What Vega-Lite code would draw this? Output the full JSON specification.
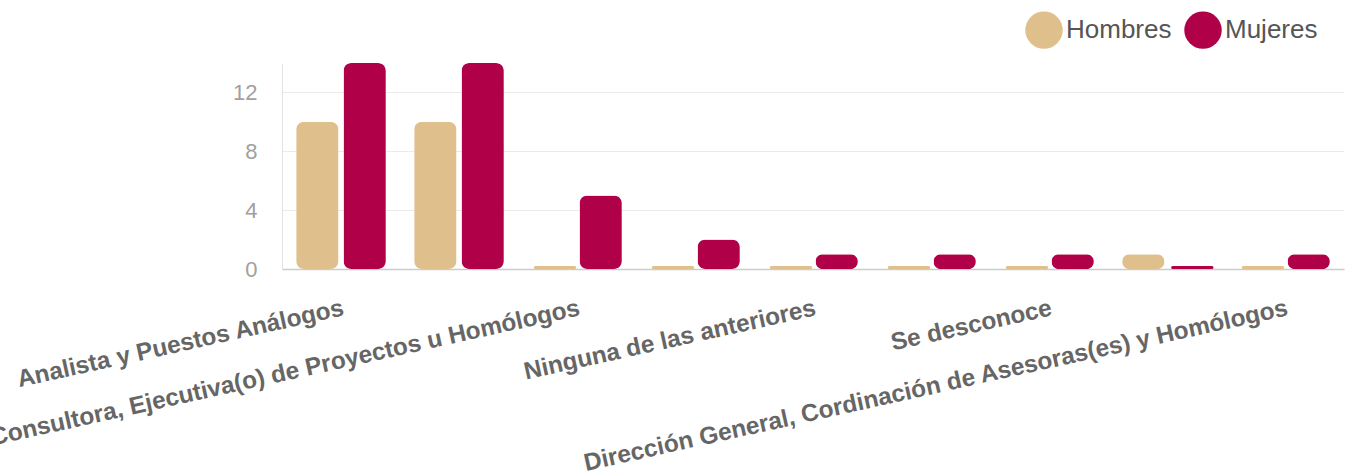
{
  "$schema": "https://vega.github.io/schema/vega-lite/v6.json",
  "width": 1062,
  "height": 206,
  "autosize": {"type": "none"},
  "padding": {"left": 282, "top": 63, "right": 3, "bottom": 207},
  "background": "white",
  "config": {"view": {"stroke": null}, "font": "Liberation Sans"},
  "data": {
    "values": [
      {"puesto": "Analista y Puestos Análogos", "sexo": "Hombres", "valor": 10},
      {"puesto": "Analista y Puestos Análogos", "sexo": "Mujeres", "valor": 14},
      {"puesto": "Asistente, Auxiliar y Puestos Homólogos", "sexo": "Hombres", "valor": 10},
      {"puesto": "Asistente, Auxiliar y Puestos Homólogos", "sexo": "Mujeres", "valor": 14},
      {"puesto": "Consultora, Ejecutiva(o) de Proyectos u Homólogos", "sexo": "Hombres", "valor": 0},
      {"puesto": "Consultora, Ejecutiva(o) de Proyectos u Homólogos", "sexo": "Mujeres", "valor": 5},
      {"puesto": "Jefatura de Departamento y Homólogos", "sexo": "Hombres", "valor": 0},
      {"puesto": "Jefatura de Departamento y Homólogos", "sexo": "Mujeres", "valor": 2},
      {"puesto": "Ninguna de las anteriores", "sexo": "Hombres", "valor": 0},
      {"puesto": "Ninguna de las anteriores", "sexo": "Mujeres", "valor": 1},
      {"puesto": "Subdirección de Área y Homólogos", "sexo": "Hombres", "valor": 0},
      {"puesto": "Subdirección de Área y Homólogos", "sexo": "Mujeres", "valor": 1},
      {"puesto": "Se desconoce", "sexo": "Hombres", "valor": 0},
      {"puesto": "Se desconoce", "sexo": "Mujeres", "valor": 1},
      {"puesto": "Dirección de Área y Homólogos", "sexo": "Hombres", "valor": 1},
      {"puesto": "Dirección de Área y Homólogos", "sexo": "Mujeres", "valor": 0},
      {"puesto": "Dirección General, Cordinación de Asesoras(es) y Homólogos", "sexo": "Hombres", "valor": 0},
      {"puesto": "Dirección General, Cordinación de Asesoras(es) y Homólogos", "sexo": "Mujeres", "valor": 1}
    ]
  },
  "encoding": {
    "x": {
      "field": "puesto",
      "type": "nominal",
      "sort": [
        "Analista y Puestos Análogos",
        "Asistente, Auxiliar y Puestos Homólogos",
        "Consultora, Ejecutiva(o) de Proyectos u Homólogos",
        "Jefatura de Departamento y Homólogos",
        "Ninguna de las anteriores",
        "Subdirección de Área y Homólogos",
        "Se desconoce",
        "Dirección de Área y Homólogos",
        "Dirección General, Cordinación de Asesoras(es) y Homólogos"
      ],
      "scale": {"paddingInner": 0.24, "paddingOuter": 0.12},
      "axis": {
        "title": null,
        "labelAngle": -12.5,
        "ticks": false,
        "domainColor": "#cccccc",
        "domainWidth": 1.5,
        "labelFont": "Liberation Sans",
        "labelFontSize": 24.4,
        "labelFontWeight": "bold",
        "labelColor": "#666666",
        "labelPadding": 27,
        "labelOverlap": false,
        "labelLimit": 2000,
        "labelExpr": "indexof(['Analista y Puestos Análogos', 'Consultora, Ejecutiva(o) de Proyectos u Homólogos', 'Ninguna de las anteriores', 'Se desconoce', 'Dirección General, Cordinación de Asesoras(es) y Homólogos'], datum.label) >= 0 ? datum.label : ''"
      }
    },
    "xOffset": {
      "field": "sexo",
      "type": "nominal",
      "sort": ["Hombres", "Mujeres"],
      "scale": {"paddingInner": 0.106}
    },
    "y": {
      "field": "valor",
      "type": "quantitative",
      "scale": {"domain": [0, 14]},
      "axis": {
        "title": null,
        "values": [0, 4, 8, 12],
        "ticks": false,
        "domainColor": "#e3e3e3",
        "gridColor": "#ebebeb",
        "labelFont": "Liberation Sans",
        "labelFontSize": 22,
        "labelColor": "#a0a0a0",
        "labelPadding": 25
      }
    },
    "color": {
      "field": "sexo",
      "type": "nominal",
      "scale": {"domain": ["Hombres", "Mujeres"], "range": ["#dfc08c", "#b00048"]},
      "legend": {
        "title": null,
        "orient": "none",
        "legendX": 743,
        "legendY": -52,
        "direction": "horizontal",
        "symbolType": "circle",
        "symbolSize": 1400,
        "symbolStrokeWidth": 0,
        "labelFont": "Liberation Sans",
        "labelFontSize": 26,
        "labelColor": "#555555",
        "labelOffset": 3,
        "columnPadding": 12,
        "padding": 0
      }
    }
  },
  "layer": [
    {
      "transform": [{"filter": "datum.valor > 0"}],
      "mark": {"type": "bar", "cornerRadius": 8}
    },
    {
      "transform": [{"filter": "datum.valor == 0"}],
      "mark": {"type": "bar", "strokeWidth": 3, "strokeJoin": "round", "yOffset": -1.5, "y2Offset": -1.5, "width": {"band": 0.93}},
      "encoding": {
        "stroke": {
          "field": "sexo",
          "type": "nominal",
          "scale": {"domain": ["Hombres", "Mujeres"], "range": ["#dfc08c", "#b00048"]},
          "legend": null
        }
      }
    }
  ]
}
